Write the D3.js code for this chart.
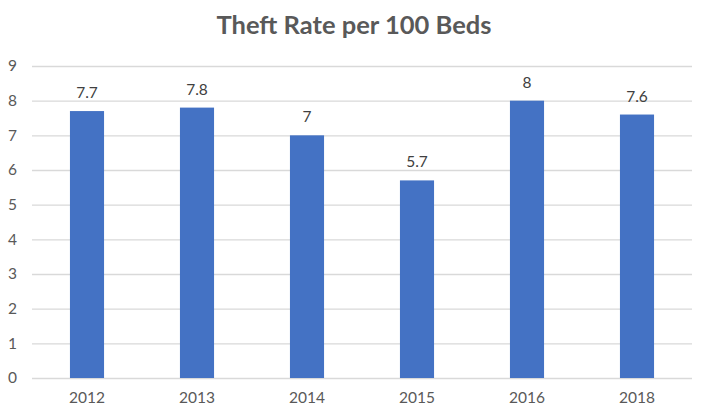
<!DOCTYPE html>
<html>
<head>
<meta charset="utf-8">
<script src="https://cdn.jsdelivr.net/npm/d3@7"></script>
<style>
  body { margin: 0; background: #fff; }
  svg { display: block; font-family: Lato, "Open Sans", sans-serif; }
  .tick text { fill: #595959; font-size: 15.5px; font-family: Lato, "Open Sans", sans-serif; }
</style>
</head>
<body>
<svg id="chart" width="702" height="416"></svg>
<script>
const years = ['2012', '2013', '2014', '2015', '2016', '2018'];
const theftRates = [7.7, 7.8, 7, 5.7, 8, 7.6];
const yTicks = [0, 1, 2, 3, 4, 5, 6, 7, 8, 9];

const svg = d3.select('#chart');
const width = 702;
const height = 416;
const margin = { top: 66, right: 10, bottom: 38, left: 32 };
const innerWidth = width - margin.left - margin.right;
const innerHeight = height - margin.top - margin.bottom;

const rows = years.map((year, i) => ({ year, value: theftRates[i] }));

const x = d3.scaleBand().domain(years).range([0, innerWidth]).paddingInner(0.69).paddingOuter(0.345);
const y = d3.scaleLinear().domain([0, 9]).range([innerHeight, 0]);

svg.append('text')
  .attr('x', 354)
  .attr('y', 34)
  .attr('text-anchor', 'middle')
  .attr('fill', '#595959')
  .attr('font-size', 25.5)
  .attr('font-weight', 'bold')
  .text('Theft Rate per 100 Beds');

const plot = svg.append('g').attr('transform', `translate(${margin.left},${margin.top})`);

// gridlines
const grid = plot.append('g')
  .call(d3.axisLeft(y).tickValues(yTicks).tickSize(-innerWidth).tickFormat(''));
grid.select('.domain').remove();
grid.selectAll('text').remove();
grid.selectAll('line').attr('stroke', '#d9d9d9').attr('stroke-width', 1.3);

const yAxis = plot.append('g')
  .call(d3.axisLeft(y).tickValues(yTicks).tickSize(0).tickPadding(15));
yAxis.select('.domain').remove();

const xAxis = plot.append('g')
  .attr('transform', `translate(0,${innerHeight})`)
  .call(d3.axisBottom(x).tickSize(0).tickPadding(14));
xAxis.select('.domain').remove();

plot.selectAll('rect.bar')
  .data(rows)
  .join('rect')
  .attr('class', 'bar')
  .attr('x', d => x(d.year))
  .attr('width', x.bandwidth())
  .attr('y', d => y(d.value))
  .attr('height', d => innerHeight - y(d.value))
  .attr('fill', '#4472c4');

plot.selectAll('text.label')
  .data(rows)
  .join('text')
  .attr('class', 'label')
  .attr('x', d => x(d.year) + x.bandwidth() / 2)
  .attr('y', d => y(d.value) - 13)
  .attr('text-anchor', 'middle')
  .attr('fill', '#404040')
  .attr('font-size', 15.5)
  .text(d => d.value);
</script>
</body>
</html>
